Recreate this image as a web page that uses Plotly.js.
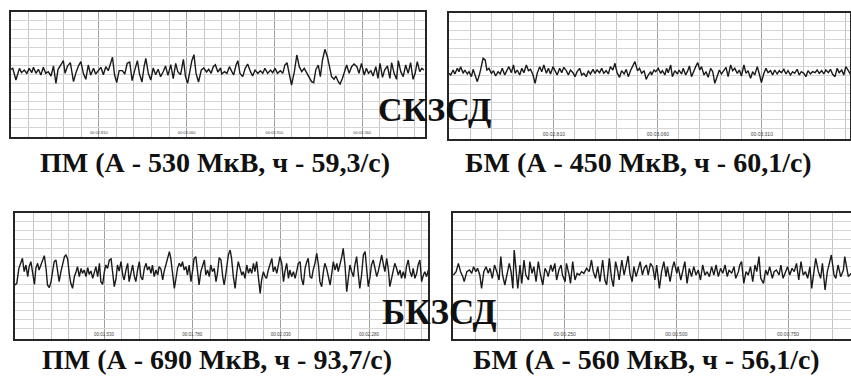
<!DOCTYPE html>
<html><head><meta charset="utf-8">
<script src="https://cdn.plot.ly/plotly-3.0.1.min.js"></script>
<style>html,body{margin:0;padding:0;background:#fff;}#chart{width:851px;height:377px;}</style>
</head><body><div id="chart"></div>
<script>
// ---- Panel 1: СКЗСД, ПМ (time in ms, amplitude in arbitrary units) ----
const p1Time = [2560,2565,2574,2584,2590,2598,2605,2612,2619,2624,2631,2638,2645,2652,2659,2666,2674,2681,2688,2694,2702,2709,2714,2721,2729,2738,2745,2752,2759,2766,2773,2780,2787,2795,2801,2808,2816,2823,2830,2837,2842,2849,2855,2861,2868,2877,2884,2891,2898,2905,2912,2920,2926,2933,2939,2944,2951,2958,2965,2972,2979,2986,2994,3000,3007,3015,3022,3029,3035,3043,3051,3057,3063,3069,3075,3081,3087,3094,3102,3109,3117,3123,3130,3136,3142,3149,3157,
3160,3168,3175,3182,3189,3194,3201,3206,3212,3220,3227,3234,3242,3248,3255,3263,3270,3277,3283,3291,3299,3305,3312,3319,3327,3334,3340,3346,3353,3359,3367,3374,3381,3388,3395,3403,3409,3416,3422,3428,3435,3441,3447,3454,3461,3468,3473,3480,3485,3492,3497,3504,3511,3516,3523,3530,3537,3545,3551,3558,3566,3572,3578,3585,3591,3599,3605,3611,3618,3624,3632,3639,3644,3651,3658,3663,3670,3677,3684,3691,3698,3705,3711,3717,3724,3730,3736];
const p1Amp = [8,11,-24,11,-2,6,-4,11,-2,14,-4,8,-9,14,-4,1,-12,18,-34,8,21,34,-4,18,28,-29,-2,18,31,-4,-22,21,-9,11,-6,4,14,-8,16,4,24,44,-9,-32,4,4,-6,26,30,-26,4,34,-6,-30,16,41,-4,-24,12,-8,8,-14,2,18,-10,22,-20,26,1,-8,38,-14,-34,6,34,52,-4,-30,6,12,0,8,-4,16,22,0,12,
-6,1,-4,16,1,-9,21,34,-4,-14,11,24,1,-12,6,-4,4,-4,11,-4,6,-2,11,-4,4,-4,21,28,-9,-39,1,51,16,1,11,-4,-14,-29,-32,6,21,-14,36,68,46,16,-14,-22,-12,-29,-36,-19,6,21,-4,16,24,16,-4,26,-9,11,-4,4,-12,16,-19,26,-16,6,18,-19,28,-4,-22,34,1,-14,21,-4,28,-22,-4,31,1,11,6];
const p1TickVals = [2810,3060,3310,3560];
const p1TickText = ["00:02.810","00:03.060","00:03.310","00:03.560"];

// ---- Panel 2: СКЗСД, БМ ----
const p2Time = [2558,2562,2568,2572,2578,2582,2586,2592,2596,2602,2606,2612,2616,2620,2626,2632,2636,2640,2645,2649,2654,2660,2665,2670,2676,2681,2686,2692,2697,2702,2708,2713,2717,2722,2728,2733,2738,2744,2749,2754,2760,2765,2770,2776,2781,2786,2792,2797,2802,2808,2813,2818,2824,2829,2834,2840,2845,2850,2856,2861,2866,2872,2877,2882,2888,2893,2898,2904,2909,2914,2920,2925,2930,2936,2941,2946,2952,2957,2962,2968,2973,2979,2984,2989,2995,3000,3005,3011,3016,3021,3027,3032,3037,3043,
3045,3051,3055,3061,3067,3071,3077,3081,3085,3091,3095,3101,3107,3111,3117,3121,3127,3132,3136,3141,3147,3151,3156,3161,3165,3171,3176,3181,3187,3192,3197,3203,3208,3213,3219,3224,3229,3235,3240,3245,3251,3256,3261,3267,3272,3277,3283,3288,3293,3299,3304,3309,3315,3320,3325,3331,3336,3341,3347,3352,3357,3363,3368,3373,3379,3384,3389,3395,3400,3405,3411,3416,3421,3427,3432,3438,3443,3448,3454,3459,3464,3470,3475,3480,3486,3491,3496,3502,3507,3512,3518,3524];
const p2Amp = [-4,-9,6,-6,11,1,16,-4,6,-6,1,-14,8,-9,-29,-4,21,41,36,6,11,-4,4,-12,1,-6,11,-9,4,16,-2,21,-4,6,-9,11,-2,21,4,8,-9,-34,-4,16,1,21,-4,11,-6,16,4,-9,11,-2,14,4,-9,6,-2,-14,1,11,-9,-4,-14,4,-6,8,-4,6,-2,11,-4,4,-6,16,6,26,-2,-16,4,-6,8,-14,6,21,31,4,11,-4,4,-22,-9,1,
-9,6,1,11,-4,4,-9,11,-2,21,-14,4,-6,6,-6,11,-9,4,18,-14,6,16,28,6,16,-9,1,-16,11,1,-34,-9,6,-6,4,14,-14,21,4,11,-4,6,-12,21,-4,4,-19,1,-9,16,-6,-32,-4,11,-2,4,-9,6,-6,4,-2,8,-6,4,-9,1,-4,8,-9,1,-4,-14,4,-6,1,-2,6,-4,4,-6,6,-2,8,-6,-14,11,-2,6,-9,16,4,-9];
const p2TickVals = [2810,3060,3310];
const p2TickText = ["00:02.810","00:03.060","00:03.310"];

// ---- Panel 3: БКЗСД, ПМ ----
const p3Time = [1278,1283,1289,1295,1299,1304,1309,1314,1318,1323,1328,1333,1337,1342,1346,1352,1358,1361,1366,1370,1375,1380,1385,1389,1394,1399,1403,1408,1413,1418,1422,1427,1432,1436,1441,1446,1451,1455,1460,1465,1469,1474,1479,1484,1488,1493,1498,1502,1507,1512,1517,1521,1526,1531,1535,1540,1545,1550,1554,1559,1564,1568,1573,1578,1583,1587,1592,1597,1601,1606,1611,1616,1620,1625,1630,1634,1639,1644,1649,1653,1658,1663,1667,1672,1677,1682,1686,1691,1696,1700,1705,1710,1715,1719,1724,1729,1733,1738,1743,1748,1752,1757,1762,1766,1771,1776,1781,1785,1790,1795,1799,1804,1809,1814,1818,1823,1828,1832,1837,1842,1847,1851,1856,1861,1866,1870,
1873,1877,1882,1887,1891,1896,1901,1906,1910,1915,1920,1924,1929,1934,1939,1943,1948,1953,1957,1962,1967,1972,1976,1981,1986,1990,1995,2000,2005,2009,2014,2019,2023,2028,2033,2038,2042,2047,2052,2056,2061,2066,2071,2075,2080,2085,2089,2094,2099,2104,2108,2113,2118,2122,2127,2132,2137,2141,2146,2151,2155,2160,2165,2170,2174,2179,2184,2189,2193,2198,2203,2207,2212,2217,2221,2226,2231,2236,2240,2245,2250,2254,2259,2264,2269,2273,2278,2283,2287,2292,2297,2302,2306,2311,2316,2321,2325,2330,2335,2339,2344,2349,2353,2358,2363,2368,2372,2377,2382,2386,2391,2396,2401,2405,2410,2415,2419,2424,2429,2434,2438,2443,2448];
const p3Amp = [-39,-34,11,26,41,1,21,-14,16,31,1,-37,11,26,6,23,36,49,9,-39,-47,-29,6,31,36,-9,-29,1,26,46,51,39,-9,-34,-49,-14,1,16,-14,11,-4,6,-14,13,-7,3,-19,1,16,-14,26,-29,-37,1,21,11,36,39,-9,-44,-19,21,3,31,-9,-24,6,26,-29,1,21,-14,-29,6,31,-14,-24,11,26,6,16,-4,21,-14,6,-9,16,9,-24,1,21,41,61,41,-9,-49,-24,11,26,16,31,6,16,-9,21,-29,6,41,46,-14,-39,1,21,36,-9,6,-14,21,1,11,-29,-4,43,36,-14,-39,
-19,21,51,66,41,-14,-49,1,31,11,-9,1,-19,21,-4,11,-4,26,1,31,-14,-64,-24,1,-14,-19,6,26,41,1,16,-4,21,46,26,-29,1,26,-19,6,-14,1,-19,1,26,31,-19,-39,11,31,41,-14,-19,6,26,56,21,-29,-44,1,26,11,-19,-39,-9,31,6,26,1,21,46,71,21,-59,-19,21,1,-14,21,46,-9,-49,-9,51,61,11,-44,-14,21,36,6,-14,1,26,51,21,1,41,6,-44,-19,11,26,11,-9,6,-19,1,-19,16,36,1,-14,11,-19,-4,21,36,-29,-9,1,-14,6];
const p3TickVals = [1530,1780,2030,2280];
const p3TickText = ["00:01.530","00:01.780","00:02.030","00:02.280"];

// ---- Panel 4: БКЗСД, БМ ----
const p4Time = [1,7,12,17,22,25,31,37,42,46,51,55,60,64,69,74,79,83,88,93,98,103,107,111,116,122,126,130,134,137,141,145,150,154,159,163,169,172,177,181,186,191,196,201,206,210,213,219,223,228,232,237,242,245,251,254,260,263,268,273,278,283,288,293,299,305,310,314,319,324,329,335,340,344,350,355,359,364,369,372,378,383,387,392,396,401,405,410,415,419,424,428,433,437,442,447,452,456,462,467,472,477,480,486,491,495,501,504,510,514,519,524,529,534,539,544,549,554,559,564,569,574,579,584,589,594,599,604,609,614,618,624,629,633,639,642,646,651,656,661,666,671,676,680,685,689,695,700,704,709,715,719,724,730,734,739,745,749,754,759,764,769,774,779,784,789,794,799,803,808,812,818,823,827,833,838,844,847,853,857,862,868,874,877,881,885,891];
const p4Amp = [0,10,35,10,-5,-20,10,15,5,25,10,20,0,-40,10,25,5,20,-10,30,10,-15,55,0,-30,10,35,10,-40,75,10,-40,30,-25,45,0,-15,40,5,25,-20,40,0,-30,20,10,-5,30,10,35,-15,15,30,0,-20,35,0,-25,40,-15,5,0,10,5,20,10,45,10,-10,25,-20,45,-15,-30,50,-10,-35,40,10,-15,45,0,25,57,5,-20,25,-5,20,40,0,20,30,0,35,25,-15,30,-40,10,40,-5,25,-20,20,40,5,25,-15,15,40,-25,20,-5,25,0,15,-15,30,0,10,-5,25,0,30,-5,20,5,30,-5,15,5,25,-10,10,30,40,-25,10,0,25,-20,30,10,55,-10,-25,15,0,25,-10,10,15,0,30,-10,10,25,0,20,10,35,-15,40,0,10,-10,25,-40,5,50,10,-10,35,-45,10,40,60,0,-10,30,-5,15,55,25,-5,5];
const p4TickVals = [250,500,750];
const p4TickText = ["00:00.250","00:00.500","00:00.750"];

const panelTitles = ["СКЗСД","БКЗСД"];
const panelLabels = ["ПМ (А - 530 МкВ, ч - 59,3/с)","БМ (А - 450 МкВ, ч - 60,1/с)","ПМ (А - 690 МкВ, ч - 93,7/с)","БМ (А - 560 МкВ, ч - 56,1/с)"];

// ---- layout helpers (pixel geometry) ----
const W = 851, H = 377;
const hx = (l, r) => [l / W, Math.min(1, r / W)];
const vy = (t, b) => [1 - b / H, 1 - t / H];

function xAxis(dom, range, tv, tt, fs, anchor) {
  return {
    domain: dom, range: range, anchor: anchor,
    tickmode: 'array', tickvals: tv, ticktext: tt,
    ticks: '', ticklabelposition: 'inside', ticklabelstandoff: 0,
    tickfont: {family: 'Liberation Sans', size: fs, color: '#444'},
    showgrid: true, gridcolor: '#a0a0a0', gridwidth: 1,
    minor: {tickmode: 'linear', tick0: tv[0], dtick: 50, showgrid: true, gridcolor: '#c4c4c4', gridwidth: 1, ticks: ''},
    showline: true, mirror: true, linecolor: '#262626', linewidth: 2,
    zeroline: false, fixedrange: true
  };
}
function yAxis(dom, range, anchor) {
  return {
    domain: dom, range: range, anchor: anchor,
    tickmode: 'linear', tick0: range[1], dtick: 26.7,
    showticklabels: false, ticks: '',
    showgrid: true, gridcolor: '#d6d6d6', gridwidth: 1,
    showline: true, mirror: true, linecolor: '#262626', linewidth: 2,
    zeroline: false, fixedrange: true
  };
}

const line = {color: '#1a1a1a', width: 1.4};
const traces = [
  {x: p1Time, y: p1Amp, xaxis: 'x', yaxis: 'y', type: 'scatter', mode: 'lines', line: line, hoverinfo: 'skip'},
  {x: p2Time, y: p2Amp, xaxis: 'x2', yaxis: 'y2', type: 'scatter', mode: 'lines', line: line, hoverinfo: 'skip'},
  {x: p3Time, y: p3Amp, xaxis: 'x3', yaxis: 'y3', type: 'scatter', mode: 'lines', line: line, hoverinfo: 'skip'},
  {x: p4Time, y: p4Amp, xaxis: 'x4', yaxis: 'y4', type: 'scatter', mode: 'lines', line: line, hoverinfo: 'skip'}
];

function ann(text, px, py, size) {
  return {text: text, xref: 'paper', yref: 'paper', x: px / W, y: 1 - py / H,
    xanchor: 'center', yanchor: 'middle', showarrow: false,
    font: {family: 'Liberation Serif', size: size, color: '#111', weight: 700}};
}

const layout = {
  width: W, height: H, margin: {l: 0, r: 0, t: 0, b: 0},
  paper_bgcolor: '#fff', plot_bgcolor: '#fff', showlegend: false,
  xaxis: xAxis(hx(11, 425), [2560, 3739], p1TickVals, p1TickText, 4, 'y'),
  yaxis: yAxis(vy(12, 137), [-195, 180], 'x'),
  xaxis2: xAxis(hx(449, 850), [2558, 3522], p2TickVals, p2TickText, 5, 'y2'),
  yaxis2: yAxis(vy(13, 139), [-201, 177], 'x2'),
  xaxis3: xAxis(hx(15, 428), [1278, 2447], p3TickVals, p3TickText, 4.5, 'y3'),
  yaxis3: yAxis(vy(213, 339), [-201, 177], 'x3'),
  xaxis4: xAxis(hx(453, 851), [0, 891], p4TickVals, p4TickText, 5, 'y4'),
  yaxis4: yAxis(vy(213, 339), [-192, 186], 'x4'),
  annotations: [
    ann(panelTitles[0], 434, 109, 34),
    ann(panelTitles[1], 439, 312, 35),
    ann(panelLabels[0], 215, 163, 28),
    ann(panelLabels[1], 638, 163, 28),
    ann(panelLabels[2], 217, 359, 28),
    ann(panelLabels[3], 646, 359, 28)
  ]
};

Plotly.newPlot('chart', traces, layout, {staticPlot: true, displayModeBar: false});
</script>
</body></html>
